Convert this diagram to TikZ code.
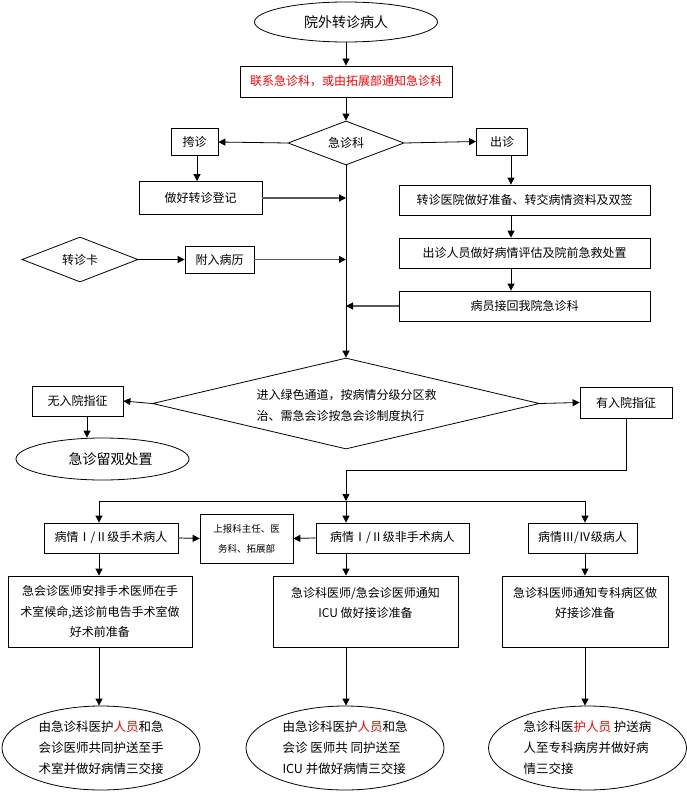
\documentclass[tikz,border=0pt]{standalone}
\usepackage{fontspec}
\setmainfont{Noto Sans CJK SC}
\usetikzlibrary{shapes.geometric,arrows.meta}
\begin{document}
\begin{tikzpicture}[x=1pt,y=-1pt,
  every node/.style={font=\fontsize{12}{20.5}\selectfont, inner sep=0pt},
  bx/.style={draw, line width=0.8pt, rectangle},
  el/.style={draw, line width=0.8pt, ellipse},
  dm/.style={draw, line width=0.8pt, diamond, shape aspect=2.5},
  arr/.style={line width=0.8pt, -{Triangle[length=7pt,width=7pt]}},
  garr/.style={line width=1.2pt, draw=black!65, -{Triangle[length=7pt,width=7pt,fill=black,color=black]}},
  ln/.style={line width=0.8pt}]
\useasboundingbox (0,0) rectangle (687,792);
% coordinates
\coordinate (rx) at (511,0);
\coordinate (lx) at (87,0);
\coordinate (j) at (346,470);
\coordinate (hl) at (99,501);
\coordinate (hy) at (346,501);
\coordinate (hr) at (585,501);
% nodes
\node[el, minimum width=183pt, minimum height=40pt, font=\fontsize{14}{16}\selectfont] (te) at (346,22) {院外转诊病人};
\node[bx, minimum width=212pt, minimum height=31pt, text=red] (rb) at (346,81.5) {联系急诊科，或由拓展部通知急诊科};
\node[dm, minimum width=116pt, minimum height=44pt] (dk) at (346,143) {急诊科};
\node[bx, minimum width=47pt, minimum height=27pt] (kz) at (194.5,142) {挎诊};
\node[bx, minimum width=51pt, minimum height=27pt] (cz) at (502,141.5) {出诊};
\node[bx, minimum width=123pt, minimum height=33pt] (dj) at (200.5,198) {做好转诊登记};
\node[bx, minimum width=251pt, minimum height=30pt] (z1) at (524.5,200) {转诊医院做好准备、转交病情资料及双签};
\node[bx, minimum width=251pt, minimum height=30pt] (z2) at (524.5,253) {出诊人员做好病情评估及院前急救处置};
\node[bx, minimum width=251pt, minimum height=30pt] (z3) at (524.5,306) {病员接回我院急诊科};
\node[dm, minimum width=116pt, minimum height=45pt] (zk) at (80,259.5) {转诊卡};
\node[bx, minimum width=69pt, minimum height=27pt] (fr) at (219.5,259.5) {附入病历};
\node[dm, minimum width=387pt, minimum height=91pt] (bd) at (346,403.5) {};
\node[align=left] (bdt) at (346.5,405.5) {进入绿色通道，按病情分级分区救\\治、需急会诊按急会诊制度执行};
\node[bx, minimum width=91pt, minimum height=30pt] (wy) at (77.5,401) {无入院指征};
\node[bx, minimum width=92pt, minimum height=31pt] (yy) at (626,402.5) {有入院指征};
\node[el, minimum width=173pt, minimum height=42pt, font=\fontsize{14}{16}\selectfont] (lg) at (102.5,459) {\hspace{16pt}急诊留观处置};
\node[bx, minimum width=134pt, minimum height=30pt] (sx) at (111,538) {病情Ⅰ/Ⅱ级手术病人};
\node[bx, minimum width=93pt, minimum height=49pt, align=center, font=\fontsize{9.5}{20}\selectfont] (sb) at (246.5,538.5) {上报科主任、医\\务科、拓展部};
\node[bx, minimum width=153pt, minimum height=30pt] (fs) at (392.5,538) {病情Ⅰ/Ⅱ级非手术病人};
\node[bx, minimum width=109pt, minimum height=30pt] (s3) at (582.5,538) {病情Ⅲ/Ⅳ级病人};
\node[bx, minimum width=184pt, minimum height=71pt, align=center] (b1) at (100,611.5) {急会诊医师安排手术医师在手\\术室候命,送诊前电告手术室做\\好术前准备};
\node[bx, minimum width=185pt, minimum height=71pt] (b2) at (365.5,611.5) {};
\node[align=center] (b2t) at ([yshift=8.5pt]b2.center) {急诊科医师/急会诊医师通知\\ICU 做好接诊准备};
\node[bx, minimum width=166pt, minimum height=71pt] (b3) at (585,611.5) {};
\node[align=center] (b3t) at ([yshift=8.5pt]b3.center) {急诊科医师通知专科病区做\\好接诊准备};
\node[el, minimum width=198pt, minimum height=84pt, align=left, font=\fontsize{12.5}{21}\selectfont] (e1) at (101,748) {由急诊科医护\textcolor{red}{人员}和急\\会诊医师共同护送至手\\术室并做好病情三交接};
\node[el, minimum width=198pt, minimum height=84pt, align=left, font=\fontsize{12.5}{21}\selectfont] (e2) at (345,748) {由急诊科医护\textcolor{red}{人员}和急\\会诊 医师共 同护送至\\ICU 并做好病情三交接};
\node[el, minimum width=198pt, minimum height=84pt, align=left, font=\fontsize{12.5}{21}\selectfont] (e3) at (587.5,748) {急诊科医\textcolor{red}{护人员} 护送病\\人至专科病房并做好病\\情三交接};
% connectors
\draw[arr] (te.south) -- (rb.north);
\draw[arr] (rb.south) -- (dk.north);
\draw[arr] (dk.west) -- (kz.east);
\draw[arr] (dk.east) -- (cz.west);
\draw[arr] ([xshift=2.5pt]kz.south) -- ([xshift=2.5pt]kz.south |- dj.north);
\draw[arr] (cz.south -| rx) -- (z1.north -| rx);
\draw[arr] (z1.south -| rx) -- (z2.north -| rx);
\draw[arr] (z2.south -| rx) -- (z3.north -| rx);
\draw[arr] (dk.south) -- (bd.north);
\draw[garr] (dj.east) -- (dj.east -| dk.south);
\draw[garr] (z3.west) -- (z3.west -| dk.south);
\draw[arr] (zk.east) -- (fr.west);
\draw[garr] (fr.east) -- (fr.east -| dk.south);
\draw[arr] (bd.west) -- (wy.east);
\draw[arr] (bd.east) -- (yy.west);
\draw[arr] (wy.south -| lx) -- (lg.north -| lx);
\draw[arr] (yy.south) |- (j) -- (hy);
\draw[ln] (hl) -- (hr);
\draw[arr] (hl) -- (hl |- sx.north);
\draw[arr] (hy) -- (hy |- fs.north);
\draw[arr] (hr) -- (hr |- s3.north);
\draw[garr] (sx.east) -- (sb.west);
\draw[garr] (fs.west) -- (sb.east);
\draw[arr] (sx.south -| hl) -- (b1.north -| hl);
\draw[arr] (fs.south -| hy) -- (b2.north -| hy);
\draw[arr] (s3.south -| hr) -- (b3.north -| hr);
\draw[arr] (b1.south -| hl) -- (e1.north -| hl);
\draw[arr] (b2.south -| hy) -- (e2.north -| hy);
\draw[arr] (b3.south -| hr) -- (e3.north -| hr);
\end{tikzpicture}
\end{document}
